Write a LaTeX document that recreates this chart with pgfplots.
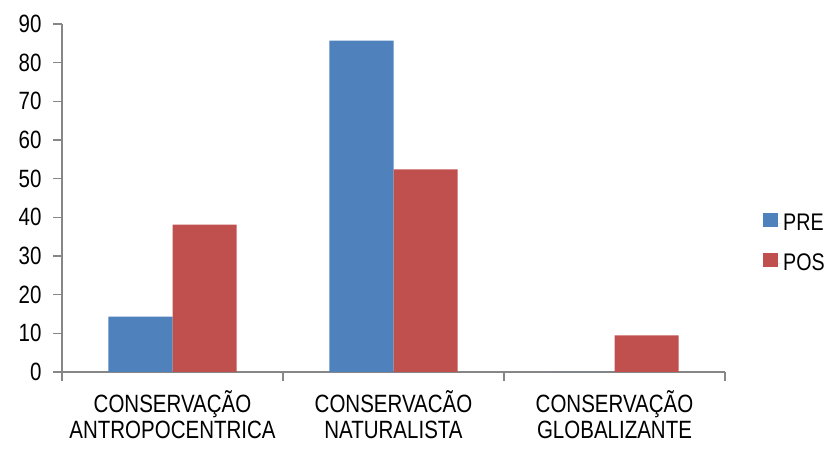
\documentclass[border=0pt]{standalone}
\usepackage{pgfplots}
\pgfplotsset{compat=1.18}
\usepackage{fontspec}
\setmainfont[FakeStretch=0.82]{Liberation Sans}
\definecolor{preblue}{HTML}{4F81BD}
\definecolor{posred}{HTML}{C0504D}
\definecolor{axisgray}{HTML}{868686}

\begin{document}
\begin{tikzpicture}
\useasboundingbox (0pt,0pt) rectangle (828pt,452pt);
\begin{axis}[
  at={(62pt,80pt)}, anchor=south west,
  scale only axis, width=663pt, height=348pt,
  xmin=-0.5, xmax=2.5, ymin=0, ymax=90,
  axis x line*=bottom, axis y line*=left,
  axis line style={axisgray, line width=1.3pt},
  tick align=outside,
  tick style={axisgray, line width=1.3pt},
  major tick length=9pt, minor tick length=9pt,
  ytick={0,10,...,90},
  xtick={0,1,2},
  major x tick style={draw=none},
  minor xtick={-0.5,0.5,1.5,2.5},
  xticklabels={{CONSERVAÇÃO\\ANTROPOCENTRICA},{CONSERVACÃO\\NATURALISTA},{CONSERVAÇÃO\\GLOBALIZANTE}},
  font=\fontsize{25}{26}\selectfont,
  /pgf/number format/assume math mode=true,
  yticklabel style={xshift=-8pt},
  xticklabel style={align=center, yshift=-6pt},
  legend style={draw=none, fill=none, at={(1,0.37)}, anchor=west, xshift=35pt,
    row sep=18pt, font=\fontsize{24}{26}\selectfont},
  legend cell align=left,
  legend image code/.code={%
    \fill[#1] (0pt,-4pt) rectangle (15pt,10pt);
    \path (0pt,0pt) -- (18pt,0pt);},
]
\addplot[ybar, bar width=0.29, bar shift=-0.145, fill=preblue, draw=none]
  coordinates {(0,14.3) (1,85.7) (2,0)};
\addlegendentry{PRE}
\addplot[ybar, bar width=0.29, bar shift=0.145, fill=posred, draw=none]
  coordinates {(0,38.1) (1,52.4) (2,9.5)};
\addlegendentry{POS}
\end{axis}
\end{tikzpicture}
\end{document}
